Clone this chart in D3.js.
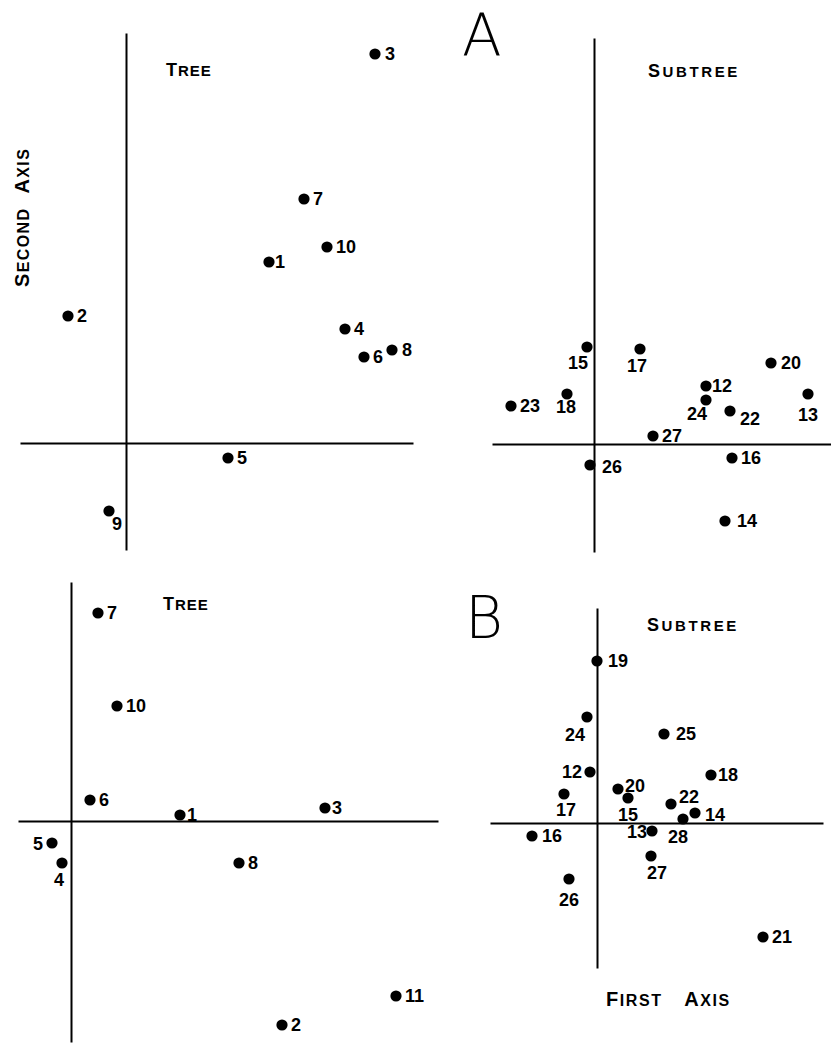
<!DOCTYPE html>
<html>
<head>
<meta charset="utf-8">
<script src="https://cdn.jsdelivr.net/npm/d3@7"></script>
<style>
  body { margin: 0; background: #fff; }
  svg { display: block; }
  .num { font-family: "Liberation Sans", Arial, sans-serif; font-weight: bold; font-size: 18px; fill: #000; }
  .cap { font-family: "Liberation Sans", Arial, sans-serif; font-weight: bold; fill: #000; }
  .axis path { stroke: #000; stroke-width: 2px; }
</style>
</head>
<body>
<div id="chart"></div>
<script>
// A - tree
const aTreeLabels = [1, 2, 3, 4, 5, 6, 7, 8, 9, 10];
const aTreeX = [1.43, -0.58, 2.49, 2.19, 1.02, 2.38, 1.78, 2.66, -0.17, 2.01];
const aTreeY = [1.81, 1.27, 3.89, 1.14, -0.15, 0.86, 2.44, 0.93, -0.68, 1.96];
const aTreeXDomain = [-1.06, 2.87];
const aTreeYDomain = [-1.07, 4.10];

// A - subtree
const aSubLabels = [12, 13, 14, 15, 16, 17, 18, 20, 22, 23, 24, 26, 27];
const aSubX = [1.12, 2.14, 1.31, -0.07, 1.38, 0.46, -0.27, 1.77, 1.36, -0.83, 1.12, -0.04, 0.59];
const aSubY = [0.58, 0.50, -0.77, 0.97, -0.14, 0.95, 0.50, 0.81, 0.33, 0.38, 0.44, -0.21, 0.08];
const aSubXDomain = [-1.02, 2.37];
const aSubYDomain = [-1.08, 4.06];

// B - tree
const bTreeLabels = [1, 2, 3, 4, 5, 6, 7, 8, 10, 11];
const bTreeX = [1.09, 2.11, 2.54, -0.09, -0.19, 0.19, 0.27, 1.68, 0.46, 3.25];
const bTreeY = [0.06, -2.04, 0.13, -0.42, -0.22, 0.21, 2.08, -0.42, 1.15, -1.75];
const bTreeXDomain = [-0.53, 3.67];
const bTreeYDomain = [-2.21, 2.39];

// B - subtree
const bSubLabels = [12, 13, 14, 15, 16, 17, 18, 19, 20, 21, 22, 24, 25, 26, 27, 28];
const bSubX = [-0.07, 0.55, 0.98, 0.31, -0.65, -0.33, 1.14, 0.00, 0.21, 1.66, 0.74, -0.10, 0.67, -0.28, 0.54, 0.86];
const bSubY = [0.51, -0.08, 0.10, 0.25, -0.13, 0.29, 0.48, 1.62, 0.34, -1.14, 0.19, 1.06, 0.89, -0.56, -0.33, 0.04];
const bSubXDomain = [-1.07, 2.26];
const bSubYDomain = [-1.45, 2.15];

// label offsets [dx, dy, anchor]; default is to the right of the dot
const defaultOffset = [9, 0, 'start'];
const aTreeOffsets = { 1: [6, 0, 'start'], 3: [10, 0, 'start'], 8: [10, 0, 'start'], 9: [8, 13, 'middle'] };
const aSubOffsets = {
  12: [6, 0, 'start'], 13: [0, 21, 'middle'], 14: [12, 0, 'start'], 15: [-9, 16, 'middle'],
  17: [-3, 17, 'middle'], 18: [-1, 13, 'middle'], 20: [10, 0, 'start'], 22: [20, 8, 'middle'],
  24: [-9, 14, 'middle'], 26: [12, 2, 'start']
};
const bTreeOffsets = { 4: [-3, 17, 'middle'], 5: [-9, 1, 'end'], 1: [7, 0, 'start'], 3: [7, 0, 'start'] };
const bSubOffsets = {
  12: [-8, 0, 'end'], 13: [-5, 1, 'end'], 14: [10, 2, 'start'], 15: [0, 17, 'middle'],
  16: [10, 0, 'start'], 17: [2, 16, 'middle'], 18: [7, 0, 'start'], 19: [11, 0, 'start'],
  20: [7, -3, 'start'], 22: [8, -7, 'start'], 24: [-12, 18, 'middle'], 25: [12, 0, 'start'],
  26: [0, 21, 'middle'], 27: [6, 17, 'middle'], 28: [-5, 18, 'middle']
};

const width = 831, height = 1043;

const svg = d3.select('#chart').append('svg')
    .attr('width', width)
    .attr('height', height);

const panels = [
  { labels: aTreeLabels, xs: aTreeX, ys: aTreeY, xd: aTreeXDomain, yd: aTreeYDomain,
    xr: [20, 413], yr: [550, 33], offsets: aTreeOffsets },
  { labels: aSubLabels, xs: aSubX, ys: aSubY, xd: aSubXDomain, yd: aSubYDomain,
    xr: [492, 831], yr: [552, 38], offsets: aSubOffsets },
  { labels: bTreeLabels, xs: bTreeX, ys: bTreeY, xd: bTreeXDomain, yd: bTreeYDomain,
    xr: [18, 438], yr: [1042, 582], offsets: bTreeOffsets },
  { labels: bSubLabels, xs: bSubX, ys: bSubY, xd: bSubXDomain, yd: bSubYDomain,
    xr: [490, 823], yr: [968, 608], offsets: bSubOffsets }
];

panels.forEach(p => {
  const x = d3.scaleLinear().domain(p.xd).range(p.xr);
  const y = d3.scaleLinear().domain(p.yd).range(p.yr);
  const g = svg.append('g');

  // axes through the origin, no ticks
  g.append('g')
      .attr('class', 'axis')
      .attr('transform', 'translate(0,' + y(0) + ')')
      .call(d3.axisBottom(x).ticks(0).tickSizeOuter(0));
  g.append('g')
      .attr('class', 'axis')
      .attr('transform', 'translate(' + x(0) + ',0)')
      .call(d3.axisLeft(y).ticks(0).tickSizeOuter(0));

  const data = p.labels.map((l, i) => ({ label: l, x: p.xs[i], y: p.ys[i] }));

  g.selectAll('.dot')
    .data(data)
    .enter().append('circle')
      .attr('class', 'dot')
      .attr('cx', d => x(d.x))
      .attr('cy', d => y(d.y))
      .attr('r', 5.6)
      .attr('fill', '#000');

  g.selectAll('.num')
    .data(data)
    .enter().append('text')
      .attr('class', 'num')
      .attr('x', d => x(d.x) + (p.offsets[d.label] || defaultOffset)[0])
      .attr('y', d => y(d.y) + (p.offsets[d.label] || defaultOffset)[1])
      .attr('dy', '0.36em')
      .attr('text-anchor', d => (p.offsets[d.label] || defaultOffset)[2])
      .text(d => d.label);
});

// small-caps titles
function smallCaps(sel, parts) {
  parts.forEach(([t, size]) => sel.append('tspan').attr('font-size', size).text(t));
}

smallCaps(svg.append('text').attr('class', 'cap').attr('x', 166).attr('y', 76).attr('letter-spacing', 1),
  [['T', 18], ['REE', 15]]);
smallCaps(svg.append('text').attr('class', 'cap').attr('x', 648).attr('y', 77).attr('letter-spacing', 2.6),
  [['S', 18], ['UBTREE', 15]]);
smallCaps(svg.append('text').attr('class', 'cap').attr('x', 163).attr('y', 610).attr('letter-spacing', 1),
  [['T', 18], ['REE', 15]]);
smallCaps(svg.append('text').attr('class', 'cap').attr('x', 647).attr('y', 631).attr('letter-spacing', 2.6),
  [['S', 18], ['UBTREE', 15]]);

smallCaps(svg.append('text').attr('class', 'cap')
    .attr('transform', 'translate(29,287) rotate(-90)').attr('letter-spacing', 1.4),
  [['S', 20], ['ECOND', 16], ['\u00a0\u00a0A', 20], ['XIS', 16]]);
smallCaps(svg.append('text').attr('class', 'cap').attr('x', 606).attr('y', 1006).attr('letter-spacing', 1.6),
  [['F', 20], ['IRST', 16], ['\u00a0\u00a0\u00a0A', 20], ['XIS', 16]]);

// panel letters
svg.append('text')
    .attr('x', 462).attr('y', 56)
    .attr('font-family', '"DejaVu Sans", sans-serif')
    .attr('font-weight', 200)
    .attr('font-size', 58)
    .text('A');
svg.append('text')
    .attr('x', 465).attr('y', 638)
    .attr('font-family', '"DejaVu Sans", sans-serif')
    .attr('font-weight', 200)
    .attr('font-size', 58)
    .text('B');
</script>
</body>
</html>
